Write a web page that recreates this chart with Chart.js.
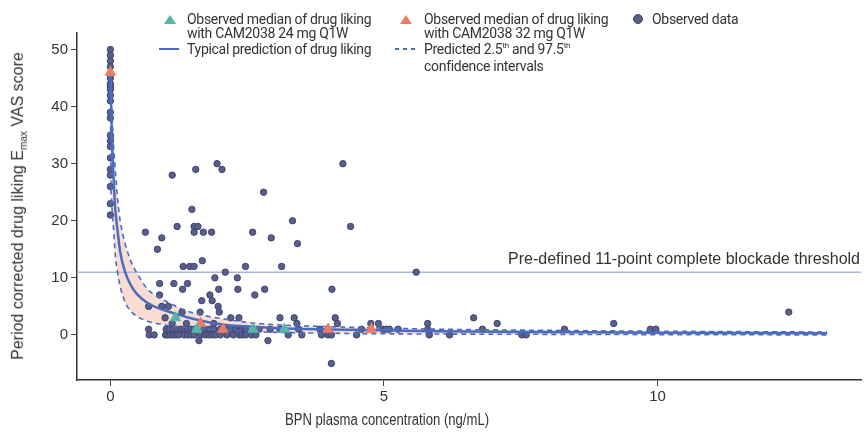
<!DOCTYPE html>
<html>
<head>
<meta charset="utf-8">
<script src="https://cdn.jsdelivr.net/npm/chart.js@4.4.1/dist/chart.umd.min.js"></script>
<style>
  html, body { margin: 0; padding: 0; background: #fff; }
  #wrap { position: relative; width: 868px; height: 434px; color: #333; font-family: Roboto, "Liberation Sans", sans-serif; }
  #chart { position: absolute; left: 0; top: 0; }
  .lg { position: absolute; font-size: 14px; line-height: 14px; letter-spacing: -0.3px; white-space: nowrap; }
  .lg sup { font-size: 8px; vertical-align: super; line-height: 0; }
  .tri { position: absolute; width: 0; height: 0; border-left: 6px solid transparent; border-right: 6px solid transparent; border-bottom: 9px solid; }
  .solid { position: absolute; width: 20px; height: 0; border-top: 2.5px solid #4a6cc0; }
  .dash { position: absolute; width: 21px; height: 2px; background: repeating-linear-gradient(90deg, #4a6cc0 0 4px, transparent 4px 8px); }
  .dot { position: absolute; width: 8px; height: 8px; border-radius: 50%; background: #5a5f8a; border: 1px solid #3e4372; }
  #ytitle { position: absolute; left: 19px; top: 206px; transform: translate(-50%, -50%) rotate(-90deg); font-family: "Liberation Sans", Arial, sans-serif; font-size: 16px; white-space: nowrap; }
  #ytitle sub { font-size: 10px; }
  #xtitle { position: absolute; left: 387px; top: 420px; transform: translate(-50%, -50%) scaleX(0.82); font-family: "Liberation Sans", Arial, sans-serif; font-size: 16px; white-space: nowrap; }
</style>
</head>
<body>
<div id="wrap">
  <canvas id="chart" width="868" height="434"></canvas>
  <div class="tri" style="left:164px; top:15px; border-bottom-color:#54b6a6;"></div>
  <div class="lg" style="left:187px; top:12px;">Observed median of drug liking<br>with CAM2038 24 mg Q1W</div>
  <div class="solid" style="left:159px; top:48px;"></div>
  <div class="lg" style="left:187px; top:42px;">Typical prediction of drug liking</div>
  <div class="tri" style="left:400px; top:15px; border-bottom-color:#ec7a66;"></div>
  <div class="lg" style="left:424px; top:12px;">Observed median of drug liking<br>with CAM2038 32 mg Q1W</div>
  <div class="dash" style="left:395px; top:48px;"></div>
  <div class="lg" style="left:424px; top:42px;">Predicted 2.5<sup>th</sup> and 97.5<sup>th</sup></div>
  <div class="lg" style="left:424px; top:59px;">confidence intervals</div>
  <div class="dot" style="left:633px; top:14px;"></div>
  <div class="lg" style="left:652px; top:12px;">Observed data</div>
  <div id="ytitle">Period corrected drug liking E<sub>max</sub> VAS score</div>
  <div id="xtitle">BPN plasma concentration (ng/mL)</div>
</div>
<script>
// observed individual data (BPN concentration, drug liking)
const obsConc = [
  0, 0, 0, 0, 0, 0, 0, 0, 0, 0, 0, 0, 0, 0, 0, 0, 0, 0, 0, 0, 0,
  1.13, 1.56, 1.95, 2.04, 4.25, 2.8, 1.49, 3.33, 4.39, 0.64, 1.22, 1.53, 1.6, 1.53, 1.7, 1.85, 2.6,
  0.94, 2.94, 3.42, 0.86, 1.68, 1.33, 1.45, 1.53, 2.47, 3.13, 2.1, 5.59, 1.91, 2.32,
  0.9, 1.16, 1.41, 1.32, 1.98, 2.33, 2.82, 4.05, 0.9, 1.82, 2.64, 1.67, 1.86,
  0.7, 0.94, 1.06, 1.97, 1.31, 1.64, 1.99, 12.4, 1.0, 2.2, 2.35, 3.1, 3.36, 4.11, 6.64,
  1.13, 1.39, 1.89, 3.41, 4.15, 4.76, 4.9, 5.8, 7.07, 9.2,
  0.7, 1.02, 1.08, 1.16, 1.22, 1.29, 1.35, 1.41, 1.47, 1.53, 1.71, 1.8, 1.89, 2.01, 2.1, 2.19, 2.29, 2.38,
  2.41, 2.47, 2.72, 2.92, 3.1, 3.44, 3.83, 4.59, 4.98, 5.04, 5.1, 5.26, 5.8, 6.8, 8.3, 9.87, 9.97,
  0.71, 0.8, 1.01, 1.05, 1.1, 1.15, 1.2, 1.25, 1.35, 1.41, 1.47, 1.53, 1.65, 1.74, 1.8, 1.86, 1.92, 2.01,
  2.13, 2.25, 2.36, 2.41, 2.47, 2.58, 2.66, 3.25, 3.5, 3.86, 3.98, 4.04, 4.5, 5.83, 6.2, 7.52, 7.6,
  1.62, 2.88, 4.04
];
const obsLiking = [
  50, 49, 48, 47, 45, 44, 43.5, 43, 42, 41, 39, 38, 35, 34, 33, 31, 29, 28, 26, 23, 21,
  28, 29, 30, 29, 30, 25, 22, 20, 19, 18, 19, 19, 19, 18, 18, 18, 18,
  17, 17, 16, 15, 13, 12, 12, 12, 12, 12, 11, 11, 10, 10,
  9, 9, 9, 8, 8, 8, 8, 8, 7, 7, 7, 6, 6,
  5, 5, 5, 5, 4, 4, 4, 4, 3, 3, 3, 3, 3, 3, 3,
  2, 2, 2, 2, 2, 2, 2, 2, 2, 2,
  1, 1, 1, 1, 1, 1, 1, 1, 1, 1, 1, 1, 1, 1, 1, 1, 1, 1,
  1, 1, 1, 1, 1, 1, 1, 1, 1, 1, 1, 1, 1, 1, 1, 1, 1,
  0, 0, 0, 0, 0, 0, 0, 0, 0, 0, 0, 0, 0, 0, 0, 0, 0, 0,
  0, 0, 0, 0, 0, 0, 0, 0, 0, 0, 0, 0, 0, 0, 0, 0, 0,
  -1, -1, -5
];

// observed medians
const med24Conc = [1.19, 1.58, 2.61, 3.18];
const med24Liking = [3, 1, 1, 1];
const med32Conc = [0, 1.65, 2.06, 3.98, 4.77];
const med32Liking = [46, 2, 1, 1, 1];

// model prediction with 2.5th / 97.5th intervals
const predConc = [0, 0.01, 0.02, 0.04, 0.06, 0.09, 0.13, 0.18, 0.27, 0.38, 0.5, 0.68, 0.9, 1.16, 1.4, 1.71, 2.07, 2.5, 3, 4, 5, 6, 8, 10, 13.1];
const predTypical = [46, 42, 38, 31, 27, 22, 18.4, 14.5, 11, 8.6, 7.0, 5.6, 4.6, 3.8, 3.1, 2.4, 1.8, 1.5, 1.2, 0.95, 0.8, 0.65, 0.5, 0.4, 0.3];
const predUpper = [46, 44, 42, 37, 33, 29, 24, 20, 16, 12.8, 10.6, 8.0, 6.5, 5.2, 4.2, 3.4, 2.8, 2.2, 1.8, 1.45, 1.2, 1.0, 0.8, 0.65, 0.5];
const predLower = [46, 27, 24, 20.5, 18.4, 14, 11, 8.5, 5.7, 4.1, 3.2, 2.4, 1.9, 1.5, 1.3, 1.1, 0.85, 0.6, 0.45, 0.3, 0.2, 0.15, 0.1, 0.05, 0];

const blockadeThreshold = 11;
const thresholdLabel = 'Pre-defined 11-point complete blockade threshold';
const xTicks = [0, 5, 10];
const yTicks = [0, 10, 20, 30, 40, 50];

const BLUE = '#4a6cc0';
const REGULAR = '"Liberation Sans", Arial, sans-serif';

function toPoints(xs, ys) {
  return xs.map((x, i) => ({ x: x, y: ys[i] }));
}

const thresholdLine = {
  id: 'thresholdLine',
  beforeDatasetsDraw(chart) {
    const { ctx, chartArea, scales } = chart;
    const yPx = scales.y.getPixelForValue(blockadeThreshold);
    ctx.save();
    ctx.strokeStyle = '#a9b7e0';
    ctx.lineWidth = 1.5;
    ctx.beginPath();
    ctx.moveTo(chartArea.left, yPx);
    ctx.lineTo(chartArea.right, yPx);
    ctx.stroke();
    ctx.fillStyle = '#333';
    ctx.font = '16px ' + REGULAR;
    ctx.textAlign = 'right';
    ctx.textBaseline = 'alphabetic';
    ctx.fillText(thresholdLabel, chartArea.right - 1, yPx - 8);
    ctx.restore();
  }
};

const ctx = document.getElementById('chart').getContext('2d');
new Chart(ctx, {
  type: 'scatter',
  data: {
    datasets: [
      {
        label: 'Observed median 24 mg',
        data: toPoints(med24Conc, med24Liking),
        pointStyle: 'triangle',
        pointRadius: 6,
        backgroundColor: '#54b6a6',
        borderColor: '#54b6a6',
        borderWidth: 1,
        order: 1
      },
      {
        label: 'Observed median 32 mg',
        data: toPoints(med32Conc, med32Liking),
        pointStyle: 'triangle',
        pointRadius: 6,
        backgroundColor: '#ec7a66',
        borderColor: '#ec7a66',
        borderWidth: 1,
        order: 1
      },
      {
        label: 'Typical prediction',
        data: toPoints(predConc, predTypical),
        showLine: true,
        borderColor: BLUE,
        borderWidth: 2.5,
        pointRadius: 0,
        cubicInterpolationMode: 'monotone',
        fill: false,
        order: 2
      },
      {
        label: 'Upper CI',
        data: toPoints(predConc, predUpper),
        showLine: true,
        borderColor: BLUE,
        borderWidth: 1.6,
        borderDash: [5, 4],
        pointRadius: 0,
        cubicInterpolationMode: 'monotone',
        fill: { target: 4 },
        backgroundColor: '#f9ddd3',
        order: 3
      },
      {
        label: 'Lower CI',
        data: toPoints(predConc, predLower),
        showLine: true,
        borderColor: BLUE,
        borderWidth: 1.6,
        borderDash: [5, 4],
        pointRadius: 0,
        cubicInterpolationMode: 'monotone',
        fill: false,
        order: 3
      },
      {
        label: 'Observed data',
        data: toPoints(obsConc, obsLiking),
        pointRadius: 3.2,
        backgroundColor: '#5a5f8a',
        borderColor: '#3e4372',
        borderWidth: 1,
        order: 4
      }
    ]
  },
  options: {
    responsive: false,
    animation: false,
    devicePixelRatio: 1,
    layout: { padding: { top: 33, right: 3, bottom: 0, left: 0 } },
    plugins: {
      legend: { display: false },
      tooltip: { enabled: false },
      filler: { drawTime: 'beforeDatasetsDraw' }
    },
    scales: {
      x: {
        type: 'linear',
        min: -0.61,
        max: 13.72,
        afterBuildTicks: (s) => { s.ticks = xTicks.map((v) => ({ value: v })); },
        afterFit: (s) => { s.height = 54; },
        grid: { drawOnChartArea: false, drawTicks: true, tickLength: 6, color: '#444', lineWidth: 1 },
        border: { display: true, color: '#333', width: 1.5 },
        ticks: { color: '#333', padding: 2, maxRotation: 0, font: { family: REGULAR, size: 15 } }
      },
      y: {
        type: 'linear',
        min: -7.9,
        max: 52.9,
        afterBuildTicks: (s) => { s.ticks = yTicks.map((v) => ({ value: v })); },
        afterFit: (s) => { s.width = 77; },
        grid: { drawOnChartArea: false, drawTicks: true, tickLength: 6, color: '#444', lineWidth: 1 },
        border: { display: true, color: '#333', width: 1.5 },
        ticks: { color: '#333', padding: 3, font: { family: REGULAR, size: 15 } }
      }
    }
  },
  plugins: [thresholdLine]
});
</script>
</body>
</html>
